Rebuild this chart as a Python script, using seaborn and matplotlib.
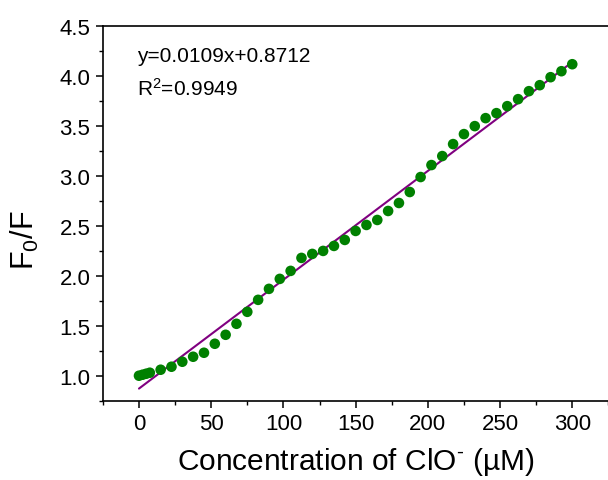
import matplotlib
matplotlib.use("Agg")
import matplotlib.pyplot as plt
import seaborn as sns
import numpy as np
import pandas as pd
from matplotlib.ticker import MultipleLocator

# ---- data ----
conc = [0, 2.5, 5, 7.5, 15, 22.5, 30, 37.5, 45, 52.5, 60, 67.5, 75, 82.5, 90, 97.5,
        105, 112.5, 120, 127.5, 135, 142.5, 150, 157.5, 165, 172.5, 180, 187.5, 195,
        202.5, 210, 217.5, 225, 232.5, 240, 247.5, 255, 262.5, 270, 277.5, 285, 292.5, 300]
ratio = [1.00, 1.01, 1.02, 1.03, 1.06, 1.09, 1.14, 1.19, 1.23, 1.32, 1.41, 1.52, 1.64,
         1.76, 1.87, 1.97, 2.05, 2.18, 2.22, 2.25, 2.30, 2.36, 2.45, 2.51, 2.56, 2.65,
         2.73, 2.84, 2.99, 3.11, 3.20, 3.32, 3.42, 3.50, 3.58, 3.63, 3.70, 3.77, 3.85,
         3.91, 3.99, 4.05, 4.12]
slope = 0.0109
intercept = 0.8712
r2 = 0.9949
xticks = [0, 50, 100, 150, 200, 250, 300]
yticks = [1.0, 1.5, 2.0, 2.5, 3.0, 3.5, 4.0, 4.5]

df = pd.DataFrame({"conc": conc, "ratio": ratio})
fit = pd.DataFrame({"conc": [conc[0], conc[-1]],
                    "fit": [slope * conc[0] + intercept, slope * conc[-1] + intercept]})

sns.set_theme(style="ticks")
plt.rcParams['font.family'] = ['Liberation Sans', 'DejaVu Sans']
plt.rcParams['mathtext.fontset'] = 'custom'
plt.rcParams['mathtext.rm'] = 'Liberation Sans'
plt.rcParams['mathtext.it'] = 'Liberation Sans:italic'
plt.rcParams['mathtext.bf'] = 'Liberation Sans:bold'
plt.rcParams['text.color'] = 'black'
plt.rcParams['axes.labelcolor'] = 'black'
plt.rcParams['xtick.color'] = 'black'
plt.rcParams['ytick.color'] = 'black'

fig = plt.figure(figsize=(6.08, 4.81), dpi=100)
ax = fig.add_axes([0.1692, 0.1649, 0.8314, 0.7784])

sns.lineplot(data=fit, x="conc", y="fit", ax=ax, color="#800080", linewidth=1.5, zorder=2)
sns.scatterplot(data=df, x="conc", y="ratio", ax=ax, color="#008000", s=58,
                edgecolor="none", zorder=3)

ax.set_xlim(-25, 325)
ax.set_ylim(0.75, 4.5)
ax.set_xticks(xticks)
ax.set_yticks(yticks)
ax.set_yticklabels([f"{v:.1f}" for v in yticks])
ax.xaxis.set_minor_locator(MultipleLocator(25))
ax.yaxis.set_minor_locator(MultipleLocator(0.25))
ax.tick_params(which="major", direction="out", length=5, width=1.1, labelsize=16,
               colors="black", top=False, right=False, pad=4)
ax.tick_params(which="minor", direction="out", length=3, width=1.0, top=False, right=False)
for name, s in ax.spines.items():
    s.set_linewidth(1.2)
    s.set_color("black")
    s.set_visible(name != "right")

ax.set_xlabel("Concentration of ClO$^{\\text{-}}$ (µM)", fontsize=21.5, labelpad=8)
ax.set_ylabel("F$_0$/F", fontsize=22)
ax.yaxis.set_label_coords(-0.122, 0.432)

ax.text(0.0675, 0.9075, f"y={slope}x+{intercept}", transform=ax.transAxes,
        fontsize=15, va="baseline", ha="left")
ax.text(0.0675, 0.8167, f"R$^2$={r2}", transform=ax.transAxes,
        fontsize=15, va="baseline", ha="left")

fig.savefig("out.png", dpi=100)
